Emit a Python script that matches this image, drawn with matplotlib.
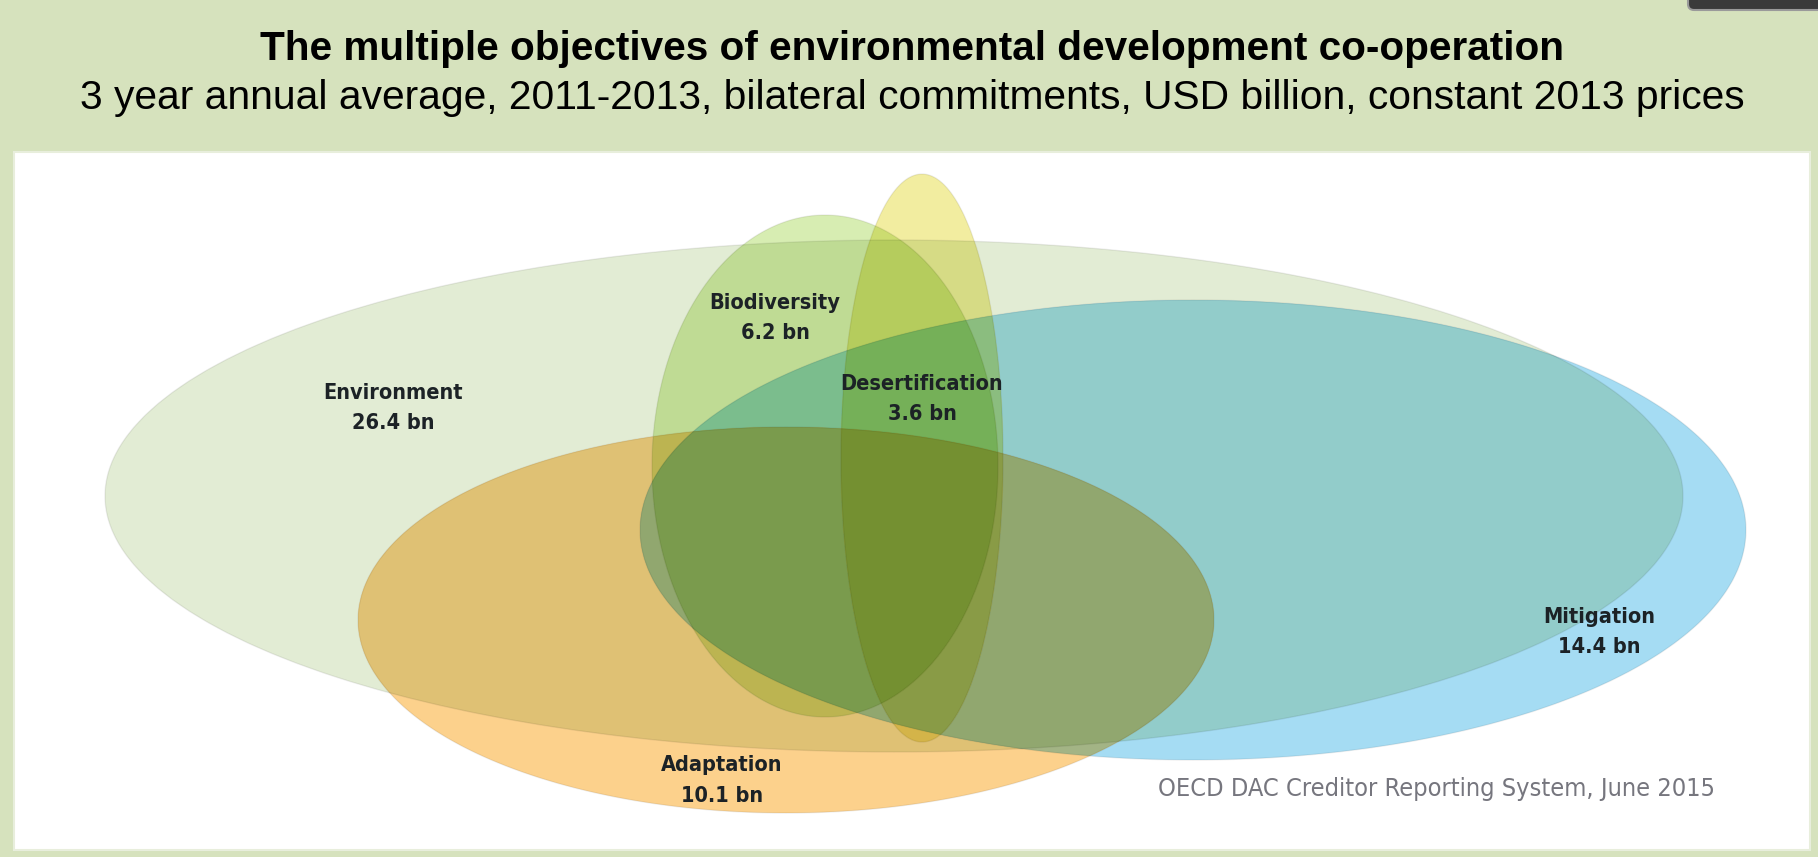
"""
Venn-style ellipse chart: multiple objectives of environmental development co-operation.
Overlaps are drawn as convex intersection polygons coloured by multiplying the set colours.
"""
import itertools
import numpy as np
import matplotlib
matplotlib.use("Agg")
import matplotlib.pyplot as plt
from matplotlib import font_manager
from matplotlib.patches import Polygon, Ellipse, Rectangle, FancyBboxPatch

# --- data -------------------------------------------------------------------
names = ["Environment", "Mitigation", "Adaptation", "Biodiversity", "Desertification"]
values_bn = [26.4, 14.4, 10.1, 6.2, 3.6]

title = "The multiple objectives of environmental development co-operation"
subtitle = "3 year annual average, 2011-2013, bilateral commitments, USD billion, constant 2013 prices"
source = "OECD DAC Creditor Reporting System, June 2015"

# --- layout (pixel space, y down) ---------------------------------------------
W, H = 1818, 857
# centre x, centre y, half width, half height
ELLIPSES = {
    "Environment":     (894, 496, 789, 256),
    "Mitigation":      (1193, 530, 553, 230),
    "Adaptation":      (786, 620, 428, 193),
    "Biodiversity":    (825, 466, 173, 251),
    "Desertification": (922, 458, 81, 284),
}
# colour each set gives over white (multiplied where sets overlap)
COLORS = {
    "Environment":     (226, 236, 212),
    "Mitigation":      (165, 220, 243),
    "Adaptation":      (252, 209, 140),
    "Biodiversity":    (215, 237, 178),
    "Desertification": (242, 237, 160),
}
# label centre x, y of name line, y of value line
LABEL_POS = {
    "Environment":     (393, 393, 423),
    "Mitigation":      (1599, 617, 647),
    "Adaptation":      (722, 765, 796),
    "Biodiversity":    (775, 303, 333),
    "Desertification": (922, 384, 414),
}
BG = "#d6e2bd"

# a narrow face suits the labels best; fall back to what is installed
fonts = font_manager.fontManager.ttflist
avail = {f.name for f in fonts}
if "Liberation Sans Narrow" in avail:
    LAB_FONT = dict(family="Liberation Sans Narrow")
    LAB_W = 128
elif any(f.name == "DejaVu Sans" and f.stretch == "condensed" for f in fonts):
    LAB_FONT = dict(family="DejaVu Sans", fontstretch="condensed")
    LAB_W = 140
else:
    LAB_FONT = dict(family="Liberation Sans")
    LAB_W = 140


def boundary(cx, cy, rx, ry, n=2400):
    t = np.linspace(0, 2 * np.pi, n, endpoint=False)
    return np.column_stack([cx + rx * np.cos(t), cy + ry * np.sin(t)])


def inside(pts, e):
    cx, cy, rx, ry = e
    return ((pts[:, 0] - cx) / rx) ** 2 + ((pts[:, 1] - cy) / ry) ** 2 <= 1.0


def intersection(keys):
    """Convex intersection of ellipses -> polygon points (or None)."""
    parts = []
    for k in keys:
        pts = boundary(*ELLIPSES[k])
        mask = np.ones(len(pts), bool)
        for o in keys:
            if o != k:
                mask &= inside(pts, ELLIPSES[o])
        parts.append(pts[mask])
    pts = np.vstack(parts)
    if len(pts) < 3:
        return None
    c = pts.mean(axis=0)
    order = np.argsort(np.arctan2(pts[:, 1] - c[1], pts[:, 0] - c[0]))
    return pts[order]


def fit_width(txt, target, fig):
    fig.canvas.draw()
    w = txt.get_window_extent(fig.canvas.get_renderer()).width
    txt.set_fontsize(txt.get_fontsize() * target / w)


fig = plt.figure(figsize=(W / 100, H / 100), dpi=100, facecolor=BG)
ax = fig.add_axes([0, 0, 1, 1])
ax.set_xlim(0, W)
ax.set_ylim(H, 0)
ax.axis("off")

# white chart panel and the dark tab at the top right
ax.add_patch(Rectangle((14, 152), 1796, 698, facecolor="white", edgecolor="#e8eedc", lw=1.5, zorder=0))
ax.add_patch(FancyBboxPatch((1688, -20), 150, 30, boxstyle="round,pad=0,rounding_size=6",
                            facecolor="#3a3a3a", edgecolor="#9a9a9a", lw=1.5, zorder=0))

# every non-empty combination of sets, smallest first so supersets end up on top
for size in range(1, len(names) + 1):
    for combo in itertools.combinations(names, size):
        poly = intersection(combo)
        if poly is None:
            continue
        col = np.ones(3)
        for k in combo:
            col *= np.array(COLORS[k]) / 255.0
        ax.add_patch(Polygon(poly, closed=True, facecolor=col, edgecolor="none", zorder=1 + size))

# faint outlines
for k in names:
    cx, cy, rx, ry = ELLIPSES[k]
    ax.add_patch(Ellipse((cx, cy), 2 * rx, 2 * ry, fill=False, edgecolor=(0, 0, 0, 0.07), lw=1.0, zorder=10))

# labels: name on one line, amount below
lab = []
for name, val in zip(names, values_bn):
    x, y1, y2 = LABEL_POS[name]
    for s, y in ((name, y1), (f"{val} bn", y2)):
        t = ax.text(x, y, s, ha="center", va="center", fontsize=17, fontweight="bold",
                    color="#1c2226", zorder=20, **LAB_FONT)
        lab.append(t)

t_title = ax.text(912, 49, title, ha="center", va="center", fontsize=25, fontweight="bold",
                  family="Liberation Sans", color="black", zorder=20)
t_sub = ax.text(912, 98, subtitle, ha="center", va="center", fontsize=26,
                family="Liberation Sans", color="black", zorder=20)
t_src = ax.text(1437, 789, source, ha="center", va="center", fontsize=17,
                color="#76767e", zorder=20, **LAB_FONT)

fit_width(t_title, 1304, fig)
fit_width(t_sub, 1661, fig)
fit_width(t_src, 559, fig)

# size the region labels from the widest reference label, keep them all equal
probe = ax.text(0, 0, "Environment", fontsize=17, fontweight="bold", **LAB_FONT)
fit_width(probe, LAB_W, fig)
for t in lab:
    t.set_fontsize(probe.get_fontsize())
probe.remove()

fig.savefig("out.png", dpi=100, facecolor=BG)
plt.close(fig)
